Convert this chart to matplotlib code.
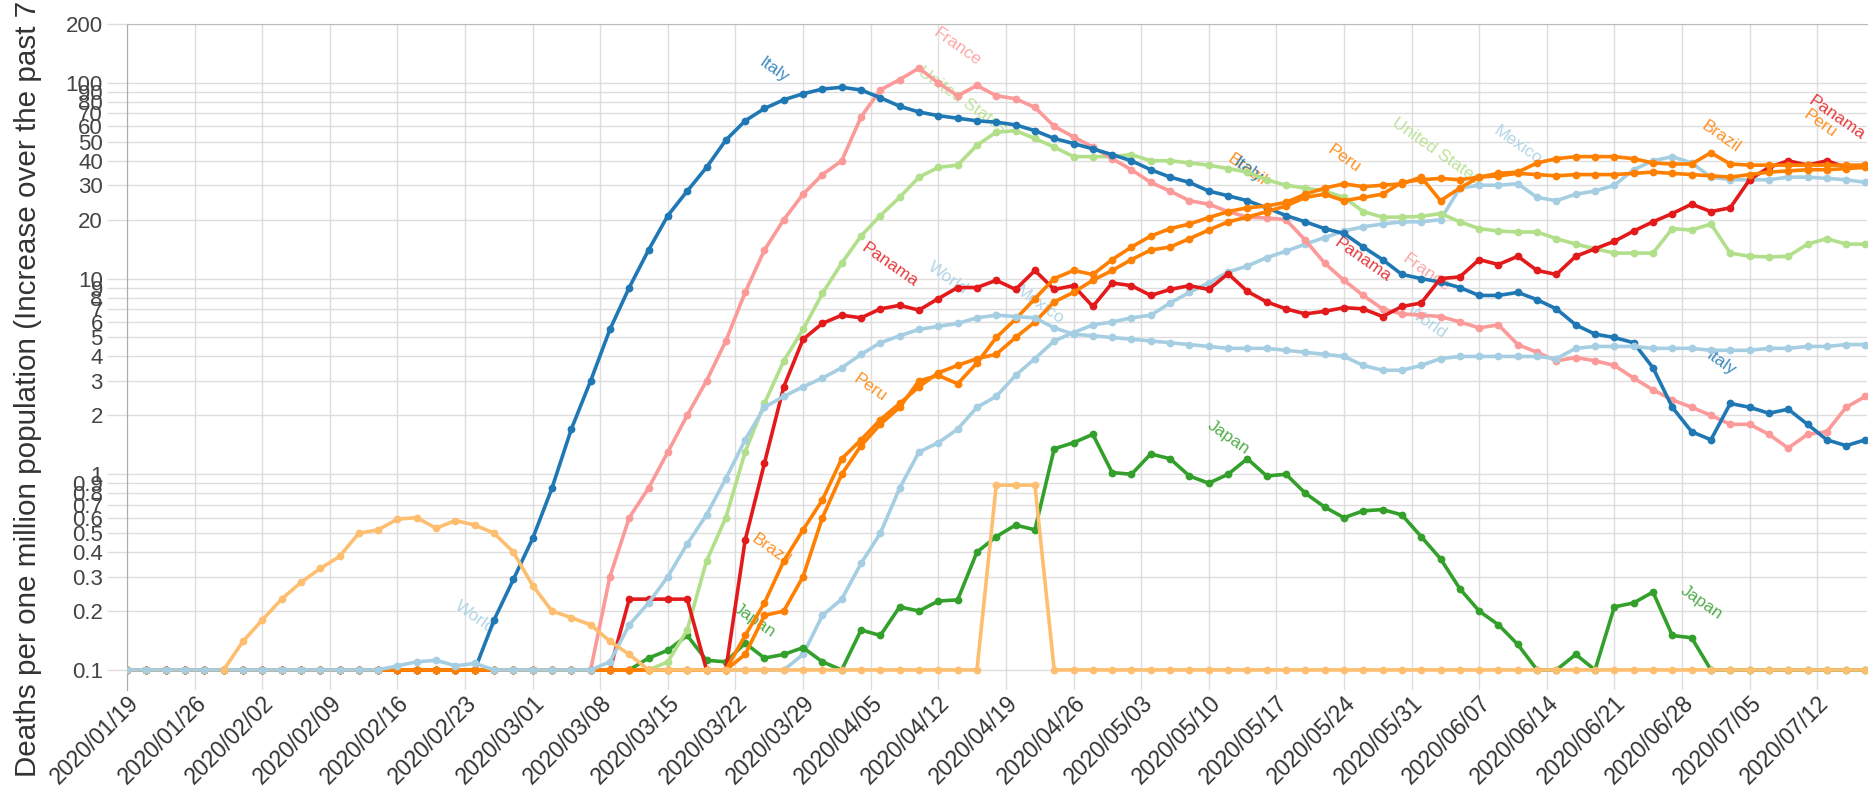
import numpy as np
import pandas as pd
import matplotlib
matplotlib.use('Agg')
import matplotlib.pyplot as plt
import matplotlib.dates as mdates
from matplotlib.ticker import FixedLocator, FixedFormatter, NullLocator

plt.rcParams['font.family'] = ['Liberation Sans', 'DejaVu Sans']

# one reading every 2 days, 2020/01/19 .. 2020/07/17 (values below 0.1 shown at 0.1)
dates = pd.date_range('2020-01-19', '2020-07-17', freq='2D')
nan = np.nan

italy = [0.1, 0.1, 0.1, 0.1, 0.1, 0.1, 0.1, 0.1, 0.1, 0.1,
         0.1, 0.1, 0.1, 0.1, 0.1, 0.1, 0.1, 0.1, 0.1, 0.18,
         0.29, 0.47, 0.85, 1.7, 3.0, 5.5, 9.0, 14, 21, 28,
         37, 51, 64, 74, 82, 88, 93, 95, 92, 84,
         76, 71, 68, 66, 64, 63, 61, 57, 52, 49,
         46, 43, 40, 36, 33, 31, 28, 26.5, 25, 23,
         21, 19.5, 18, 17, 14.5, 12.5, 10.5, 10, 9.6, 9.0,
         8.2, 8.2, 8.5, 7.8, 7.0, 5.8, 5.2, 5.0, 4.7, 3.5,
         2.2, 1.65, 1.5, 2.3, 2.2, 2.05, 2.15, 1.8, 1.5, 1.4,
         1.5]
france = [0.1, 0.1, 0.1, 0.1, 0.1, 0.1, 0.1, 0.1, 0.1, 0.1,
          0.1, 0.1, 0.1, 0.1, 0.1, 0.1, 0.1, 0.1, 0.1, 0.1,
          0.1, 0.1, 0.1, 0.1, 0.1, 0.3, 0.6, 0.85, 1.3, 2.0,
          3.0, 4.8, 8.5, 14, 20, 27, 34, 40, 67, 92,
          104, 119, 100, 86, 97, 86, 83, 75, 60, 53,
          47, 41, 36, 31, 28, 25, 24, 22, 20.6, 20.4,
          20, 15.7, 12, 9.8, 8.2, 7.0, 6.6, 6.5, 6.4, 6.0,
          5.6, 5.8, 4.6, 4.2, 3.8, 3.95, 3.8, 3.6, 3.1, 2.7,
          2.4, 2.2, 2.0, 1.8, 1.8, 1.6, 1.36, 1.6, 1.65, 2.2,
          2.5]
united_states = [0.1, 0.1, 0.1, 0.1, 0.1, 0.1, 0.1, 0.1, 0.1, 0.1,
                 0.1, 0.1, 0.1, 0.1, 0.1, 0.1, 0.1, 0.1, 0.1, 0.1,
                 0.1, 0.1, 0.1, 0.1, 0.1, 0.1, 0.1, 0.1, 0.11, 0.16,
                 0.36, 0.6, 1.3, 2.3, 3.8, 5.5, 8.4, 12, 16.5, 21,
                 26, 33, 37, 38, 48, 56, 57, 52, 47, 42,
                 42, 42, 43, 40, 40, 39, 38, 36.5, 35, 32,
                 30, 29, 28, 26, 22, 20.6, 20.6, 20.8, 21.5, 19.5,
                 18, 17.5, 17.3, 17.3, 16, 15, 14.2, 13.5, 13.5, 13.5,
                 18, 17.7, 19, 13.5, 13, 12.9, 13, 15, 16, 15,
                 15]
panama = [0.1, 0.1, 0.1, 0.1, 0.1, 0.1, 0.1, 0.1, 0.1, 0.1,
          0.1, 0.1, 0.1, 0.1, 0.1, 0.1, 0.1, 0.1, 0.1, 0.1,
          0.1, 0.1, 0.1, 0.1, 0.1, 0.1, 0.23, 0.23, 0.23, 0.23,
          0.1, 0.1, 0.46, 1.14, 2.8, 4.9, 5.9, 6.5, 6.3, 7.0,
          7.3, 6.9, 7.9, 9.0, 9.0, 9.8, 8.8, 11, 8.8, 9.2,
          7.2, 9.5, 9.2, 8.2, 8.8, 9.2, 8.8, 10.6, 8.6, 7.6,
          7.0, 6.6, 6.8, 7.1, 7.0, 6.4, 7.2, 7.5, 10, 10.2,
          12.5, 11.8, 13, 11, 10.5, 13, 14.2, 15.5, 17.5, 19.5,
          21.5, 24, 22, 23, 32, 37, 40, 38, 40, 37,
          38]
world = [0.1, 0.1, 0.1, 0.1, 0.1, 0.1, 0.1, 0.1, 0.1, 0.1,
         0.1, 0.1, 0.1, 0.1, 0.105, 0.11, 0.112, 0.105, 0.108, 0.1,
         0.1, 0.1, 0.1, 0.1, 0.1, 0.11, 0.17, 0.22, 0.3, 0.44,
         0.62, 0.95, 1.5, 2.2, 2.5, 2.8, 3.1, 3.5, 4.1, 4.7,
         5.1, 5.5, 5.7, 5.9, 6.3, 6.5, 6.4, 6.3, 5.6, 5.2,
         5.1, 5.0, 4.9, 4.8, 4.7, 4.6, 4.5, 4.4, 4.4, 4.4,
         4.3, 4.2, 4.1, 4.0, 3.6, 3.4, 3.4, 3.6, 3.9, 4.0,
         4.0, 4.0, 4.0, 4.0, 3.9, 4.4, 4.5, 4.5, 4.5, 4.4,
         4.4, 4.4, 4.3, 4.3, 4.3, 4.4, 4.4, 4.5, 4.5, 4.6,
         4.6]
mexico = [0.1, 0.1, 0.1, 0.1, 0.1, 0.1, 0.1, 0.1, 0.1, 0.1,
          0.1, 0.1, 0.1, 0.1, 0.1, 0.1, 0.1, 0.1, 0.1, 0.1,
          0.1, 0.1, 0.1, 0.1, 0.1, 0.1, 0.1, 0.1, 0.1, 0.1,
          0.1, 0.1, 0.1, 0.1, 0.1, 0.12, 0.19, 0.23, 0.35, 0.5,
          0.85, 1.3, 1.45, 1.7, 2.2, 2.5, 3.2, 3.9, 4.8, 5.3,
          5.8, 6.0, 6.3, 6.5, 7.5, 8.5, 9.5, 10.8, 11.6, 12.8,
          13.8, 15, 16.2, 17.5, 18.4, 19, 19.5, 19.5, 20, 29,
          30, 30, 30.5, 26, 25, 27, 28, 30, 36, 40,
          42, 39, 33, 32, 32, 32, 33, 33, 32.5, 32,
          31]
peru = [0.1, 0.1, 0.1, 0.1, 0.1, 0.1, 0.1, 0.1, 0.1, 0.1,
        0.1, 0.1, 0.1, 0.1, 0.1, 0.1, 0.1, 0.1, 0.1, 0.1,
        0.1, 0.1, 0.1, 0.1, 0.1, 0.1, 0.1, 0.1, 0.1, 0.1,
        0.1, 0.1, 0.12, 0.19, 0.2, 0.3, 0.6, 1.0, 1.4, 1.8,
        2.2, 3.0, 3.2, 2.9, 3.7, 5.0, 6.2, 7.9, 10, 11,
        10.5, 12.5, 14.5, 16.5, 18, 19, 20.5, 22, 23, 23.5,
        24.5, 27, 29, 30.5, 29.5, 30, 30.5, 33, 25, 29,
        33, 33.5, 34.5, 34, 33.5, 34, 34, 34, 34.5, 35,
        34.5, 34, 33.5, 33, 34, 35, 35.5, 36, 36, 36.5,
        37]
brazil = [0.1, 0.1, 0.1, 0.1, 0.1, 0.1, 0.1, 0.1, 0.1, 0.1,
          0.1, 0.1, 0.1, 0.1, 0.1, 0.1, 0.1, 0.1, 0.1, 0.1,
          0.1, 0.1, 0.1, 0.1, 0.1, 0.1, 0.1, 0.1, 0.1, 0.1,
          0.1, 0.1, 0.15, 0.22, 0.36, 0.52, 0.74, 1.2, 1.5, 1.9,
          2.3, 2.8, 3.3, 3.6, 3.9, 4.1, 5.0, 6.0, 7.6, 8.5,
          9.8, 11, 12.5, 14, 14.5, 16, 17.7, 19.5, 20.6, 22,
          23.5, 26, 27, 25, 26, 27, 31, 32, 32.5, 32,
          33, 34.5, 35, 39, 41, 42, 42, 42, 41, 39,
          38.5, 38.5, 44, 38.5, 38, 38, 38, 38, 38, 38,
          38]
japan = [0.1, 0.1, 0.1, 0.1, 0.1, 0.1, 0.1, 0.1, 0.1, 0.1,
         0.1, 0.1, 0.1, 0.1, 0.1, 0.1, 0.1, 0.1, 0.1, 0.1,
         0.1, 0.1, 0.1, 0.1, 0.1, 0.1, 0.1, 0.115, 0.126, 0.15,
         0.112, 0.11, 0.137, 0.115, 0.12, 0.13, 0.11, 0.1, 0.16, 0.15,
         0.21, 0.2, 0.225, 0.228, 0.4, 0.48, 0.55, 0.52, 1.35, 1.45,
         1.6, 1.02, 1.0, 1.27, 1.2, 0.98, 0.9, 1.0, 1.2, 0.98,
         1.0, 0.8, 0.68, 0.6, 0.65, 0.66, 0.62, 0.48, 0.37, 0.26,
         0.2, 0.17, 0.135, 0.1, 0.1, 0.12, 0.1, 0.21, 0.22, 0.25,
         0.15, 0.146, 0.1, 0.1, 0.1, 0.1, 0.1, 0.1, 0.1, 0.1,
         0.1]
china = [nan, nan, nan, nan, nan, 0.1, 0.14, 0.18, 0.23, 0.28,
         0.33, 0.38, 0.5, 0.52, 0.59, 0.6, 0.53, 0.58, 0.55, 0.5,
         0.4, 0.27, 0.2, 0.185, 0.17, 0.14, 0.12, 0.1, 0.1, 0.1,
         0.1, 0.1, 0.1, 0.1, 0.1, 0.1, 0.1, 0.1, 0.1, 0.1,
         0.1, 0.1, 0.1, 0.1, 0.1, 0.88, 0.88, 0.88, 0.1, 0.1,
         0.1, 0.1, 0.1, 0.1, 0.1, 0.1, 0.1, 0.1, 0.1, 0.1,
         0.1, 0.1, 0.1, 0.1, 0.1, 0.1, 0.1, 0.1, 0.1, 0.1,
         0.1, 0.1, 0.1, 0.1, 0.1, 0.1, 0.1, 0.1, 0.1, 0.1,
         0.1, 0.1, 0.1, 0.1, 0.1, 0.1, 0.1, 0.1, 0.1, 0.1,
         0.1]

# drawing order = bottom to top
series = [
    ('Mexico', mexico, '#a6cee3'),
    ('Japan', japan, '#33a02c'),
    ('United States', united_states, '#b2df8a'),
    ('France', france, '#fb9a99'),
    ('Italy', italy, '#1f78b4'),
    ('Panama', panama, '#e31a1c'),
    ('Peru', peru, '#ff7f00'),
    ('Brazil', brazil, '#ff7f00'),
    ('World', world, '#a6cee3'),
    ('China', china, '#fdbf6f'),
]
colors = {name: c for name, _, c in series}

# in-chart series labels: text, anchor date, value
labels = [
    ('Italy', '2020-03-26', 116), ('France', '2020-04-14', 152),
    ('United States', '2020-04-14 12:00', 82), ('Panama', '2020-04-07', 11.7),
    ('World', '2020-04-13', 10.1), ('Peru', '2020-04-05', 2.76),
    ('Brazil', '2020-03-25 17:00', 0.41), ('Japan', '2020-03-24', 0.18),
    ('World', '2020-02-24', 0.187), ('Mexico', '2020-04-22 12:00', 7.3),
    ('Brazil', '2020-05-14', 36), ('Italy', '2020-05-14', 36),
    ('Peru', '2020-05-24', 41), ('United States', '2020-06-02 14:00', 45),
    ('Mexico', '2020-06-11', 48), ('Brazil', '2020-07-02', 53),
    ('Peru', '2020-07-12 07:00', 62), ('Panama', '2020-07-14', 66),
    ('Panama', '2020-05-26', 12.4), ('France', '2020-06-01 14:00', 10.7),
    ('World', '2020-06-01 14:00', 6.0), ('Italy', '2020-07-02', 3.7),
    ('Japan', '2020-05-12', 1.55), ('Japan', '2020-06-30', 0.22),
]

yticks = [0.1, 0.2, 0.3, 0.4, 0.5, 0.6, 0.7, 0.8, 0.9,
          1, 2, 3, 4, 5, 6, 7, 8, 9,
          10, 20, 30, 40, 50, 60, 70, 80, 90, 100, 200]
xticks = pd.date_range('2020-01-19', '2020-07-12', freq='7D')

fig = plt.figure(figsize=(18.71, 7.87), dpi=100)
ax = fig.add_axes([0.0679, 0.1233, 0.93, 0.8462])

for z, (name, vals, col) in enumerate(series):
    ax.plot(dates, vals, color=col, lw=2.6, marker='o', ms=5.6,
            markeredgewidth=0, zorder=3 + z, clip_on=True)

for txt, d, v in labels:
    ax.text(pd.Timestamp(d), v, txt, color=colors[txt], alpha=0.85,
            fontsize=12.5, rotation=-35, ha='center', va='center',
            rotation_mode='anchor', zorder=2)

ax.set_yscale('log')
ax.set_ylim(0.079, 200)
ax.set_xlim(pd.Timestamp('2020-01-19'), pd.Timestamp('2020-07-17 04:00'))

ax.yaxis.set_major_locator(FixedLocator(yticks))
ax.yaxis.set_major_formatter(FixedFormatter(['{:g}'.format(t) for t in yticks]))
ax.yaxis.set_minor_locator(NullLocator())
ax.set_xticks(xticks)
ax.xaxis.set_major_formatter(mdates.DateFormatter('%Y/%m/%d'))

ax.tick_params(axis='y', length=14.4, width=1, color='#dddddd', pad=3,
               labelsize=16, labelcolor='#444444')
ax.tick_params(axis='x', length=0, pad=1, labelsize=16.5, labelcolor='#333333')
plt.setp(ax.get_xticklabels(), rotation=45, ha='right', rotation_mode='anchor')

ax.grid(True, color='#dedede', lw=1)
ax.set_axisbelow(True)
for s in ['right', 'bottom']:
    ax.spines[s].set_visible(False)
ax.spines['left'].set_color('#aaaaaa')
ax.spines['top'].set_color('#bbbbbb')

fig.text(0.0148, 0.0127, 'Deaths per one million population (Increase over the past 7 days)',
         rotation=90, va='bottom', ha='center', fontsize=21.3, color='#333333')

fig.savefig('out.png', dpi=100)
